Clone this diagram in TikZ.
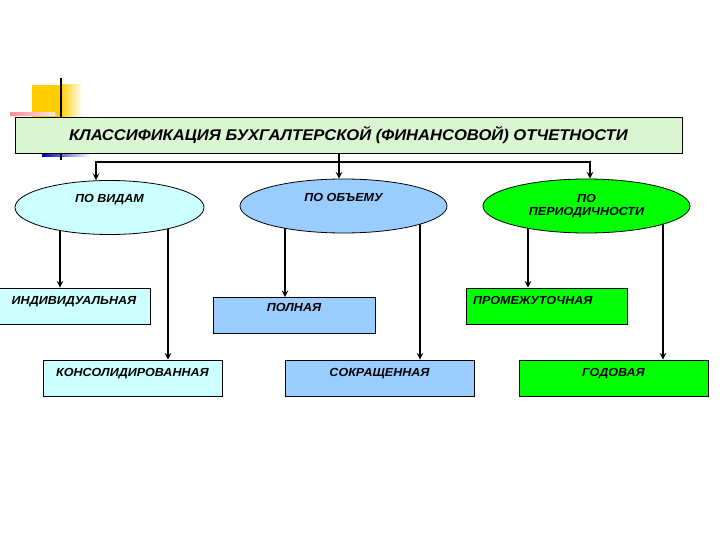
\documentclass[tikz,border=0pt]{standalone}
\usepackage{fontspec}
\setmainfont{Liberation Sans}[FakeStretch=1.07]
\usetikzlibrary{arrows.meta, shapes.geometric, positioning, calc, backgrounds}
\definecolor{titlegreen}{HTML}{DAF5D2}
\definecolor{palecyan}{HTML}{CCFFFF}
\definecolor{skyblue}{HTML}{99CCFF}
\definecolor{brightgreen}{HTML}{00FF00}
\definecolor{signyellow}{HTML}{FFCC00}

\begin{document}
\begin{tikzpicture}[x=1pt, y=-1pt,
    arr/.style={->, >=stealth, line width=1.9pt, black},
    oval/.style={ellipse, draw=black, line width=0.8pt, inner sep=0pt, minimum height=54pt,
      font=\fontsize{11.7}{13}\selectfont\bfseries\itshape},
    box/.style={rectangle, draw=black, line width=0.8pt, inner sep=0pt, minimum height=36pt,
      text height=16pt, text depth=20pt, font=\fontsize{11.7}{13}\selectfont\bfseries\itshape}]
  \useasboundingbox (0,0) rectangle (720,540);
  % Декор слева
  \fill[signyellow] (32,85) rectangle (60,117);
  \shade[left color=signyellow, right color=white] (60,85) rectangle (82,117);
  \shade[left color=red!45, right color=red!10] (10,113) rectangle (55,116);
  \shade[left color=blue!75!black, right color=white] (42,153) rectangle (90,157);
  \draw[line width=2.2pt, black] (61,78) -- (61,160);
  % Заголовок
  \node[draw=black, line width=0.8pt, fill=titlegreen, minimum width=667pt, minimum height=36pt,
    font=\fontsize{15.5}{17}\selectfont\bfseries\itshape] (title) at (348.5,135)
    {КЛАССИФИКАЦИЯ БУХГАЛТЕРСКОЙ (ФИНАНСОВОЙ) ОТЧЕТНОСТИ};
  % Признаки
  \node[oval, fill=palecyan, minimum width=189pt, text height=10pt, text depth=19pt] (vid) at (109.5,207.5) {ПО ВИДАМ};
  \node[oval, fill=skyblue, minimum width=207pt, text height=10pt, text depth=19pt] (obem) at (343.5,206) {ПО ОБЪЕМУ};
  \node[oval, fill=brightgreen, minimum width=207pt, align=center] (period) at (586.5,206) {ПО\\ПЕРИОДИЧНОСТИ};
  % Виды отчетности
  \node[box, fill=palecyan, minimum width=152pt] (ind) at (74,306) {ИНДИВИДУАЛЬНАЯ};
  \node[box, fill=palecyan, minimum width=179pt] (kons) at (132.5,378) {КОНСОЛИДИРОВАННАЯ};
  \node[box, fill=skyblue, minimum width=162pt, text height=14pt, text depth=22pt] (poln) at (294,315.5) {ПОЛНАЯ};
  \node[box, fill=skyblue, minimum width=189pt] (sokr) at (379.5,378) {СОКРАЩЕННАЯ};
  \node[box, fill=brightgreen, minimum width=161pt, text width=147pt, align=left] (prom) at (546.5,306) {ПРОМЕЖУТОЧНАЯ};
  \node[box, fill=brightgreen, minimum width=189pt] (god) at (613.5,378) {ГОДОВАЯ};
  % Связи
  \coordinate (bus) at (339,162);
  \draw[line width=1.9pt] (bus |- title.south) -- (bus);
  \draw[arr] (bus) -| ([xshift=-13.5pt]vid.north);
  \draw[arr] (bus) -- (bus |- obem.north);
  \draw[arr] (bus) -| ([xshift=3.5pt]period.north);
  \begin{scope}[on background layer]
    \draw[arr] ([xshift=-14pt]ind.north |- vid.center) -- ([xshift=-14pt]ind.north);
    \draw[arr] ([xshift=35.5pt]kons.north |- vid.center) -- ([xshift=35.5pt]kons.north);
    \draw[arr] ([xshift=-9pt]poln.north |- obem.center) -- ([xshift=-9pt]poln.north);
    \draw[arr] ([xshift=40.5pt]sokr.north |- obem.center) -- ([xshift=40.5pt]sokr.north);
    \draw[arr] ([xshift=-18.5pt]prom.north |- period.center) -- ([xshift=-18.5pt]prom.north);
    \draw[arr] ([xshift=49.5pt]god.north |- period.center) -- ([xshift=49.5pt]god.north);
  \end{scope}
\end{tikzpicture}
\end{document}
